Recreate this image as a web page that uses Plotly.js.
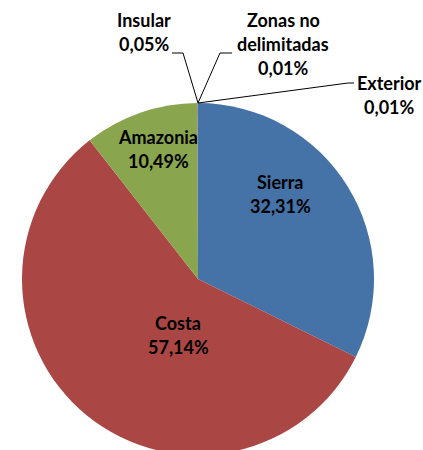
<!DOCTYPE html>
<html>
<head>
<meta charset="utf-8">
<script src="https://cdn.plot.ly/plotly-3.0.1.min.js"></script>
<style>
html,body{margin:0;padding:0;overflow:hidden;background:#fff;}
#chart{width:423px;height:460px;}
</style>
</head>
<body>
<div id="chart"></div>
<script>
// Data
const regions = ["Sierra", "Costa", "Amazonia", "Insular", "Zonas no<br>delimitadas", "Exterior"];
const shares = [32.31, 57.14, 10.49, 0.05, 0.01, 0.01];
const colors = ["#4572A7", "#AA4643", "#89A54E", "#71588F", "#4198AF", "#DB843D"];

const W = 423, H = 460;
const px = x => x / W;
const py = y => (H - y) / H;

// label positions (pixels: centre x, centre y of the first text line)
const labelPos = [[280, 182], [178, 323], [158, 137], [144, 20], [283, 20], [389, 83]];
const lineGap = 24;
// leader lines for the tiny slices (pixels)
const leaders = {
  3: [[198, 103], [183, 53], [172, 53]],
  4: [[198, 103], [220, 53], [232, 53]],
  5: [[198, 103], [348, 83], [354, 83]]
};

function fmt(v) { return v.toFixed(2).replace('.', ',') + '%'; }

const annotations = [];
regions.forEach((r, i) => {
  const lines = r.split('<br>').concat([fmt(shares[i])]);
  lines.forEach((t, j) => {
    annotations.push({
      xref: 'paper', yref: 'paper',
      x: px(labelPos[i][0]), y: py(labelPos[i][1] + j * lineGap),
      xanchor: 'center', yanchor: 'middle',
      text: '<b>' + t + '</b>',
      showarrow: false, align: 'center',
      font: {family: 'Lato, "Liberation Sans", sans-serif', size: 18, color: '#000'}
    });
  });
});

const shapes = Object.keys(leaders).map(k => {
  const pts = leaders[k];
  const path = pts.map((p, j) => (j ? 'L' : 'M') + px(p[0]) + ',' + py(p[1])).join(' ');
  return {type: 'path', xref: 'paper', yref: 'paper', path: path,
          line: {color: '#000', width: 1}};
});

const trace = {
  type: 'pie',
  labels: regions,
  values: shares,
  sort: false,
  direction: 'clockwise',
  rotation: 0,
  marker: {colors: colors, line: {width: 0}},
  textinfo: 'none',
  hoverinfo: 'skip',
  showlegend: false,
  domain: {x: [px(22), px(374)], y: [py(455), py(103)]}
};

Plotly.newPlot('chart', [trace], {
  width: W, height: H,
  margin: {l: 0, r: 0, t: 0, b: 0},
  paper_bgcolor: '#fff',
  showlegend: false,
  annotations: annotations,
  shapes: shapes
}, {staticPlot: true});
</script>
</body>
</html>
